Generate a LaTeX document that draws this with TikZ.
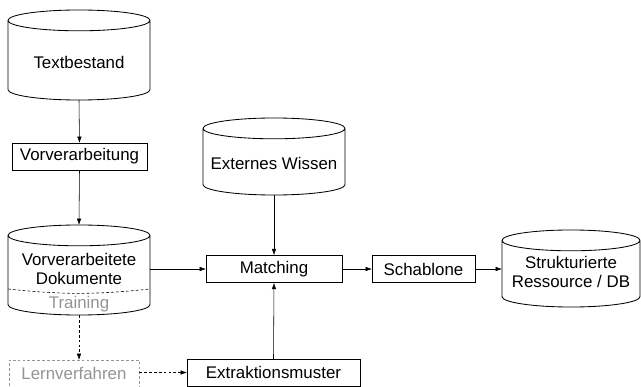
\documentclass[tikz,border=0pt]{standalone}
\usepackage{fontspec}
\setmainfont{Liberation Sans}
\usepackage{tikz}
\usetikzlibrary{arrows.meta}

\begin{document}
\begin{tikzpicture}[x=0.025cm,y=-0.025cm,
		font=\fontsize{12}{13}\selectfont,
		kasten/.style={draw,line width=0.6pt,minimum height=0.69cm,inner sep=0pt,outer sep=0pt},
		speicher/.style={inner sep=0pt,outer sep=0pt,minimum width=3.55cm},
		pfeil/.style={line width=0.4pt,-{Latex[length=4.5pt,width=3.2pt]}},
		grau/.style={text=black!42}]
	\useasboundingbox (0,0) rectangle (641,387);
	% Speicher (Zylinder)
	\node[speicher,minimum height=2.25cm] (TB) at (79,55) {};
	\node[speicher,minimum height=2.25cm] (VD) at (79,270) {};
	\node[speicher,minimum height=1.925cm] (EW) at (274,156.5) {};
	\node[speicher,minimum height=1.925cm,minimum width=3.45cm] (SR) at (571,268.5) {};
	\foreach \Z/\R in {TB/1.775cm, VD/1.775cm, EW/1.775cm, SR/1.725cm} {
		\draw[line width=0.6pt] ([yshift=-0.26cm]\Z.north west) -- ([yshift=0.26cm]\Z.south west)
			arc[start angle=180, end angle=360, x radius=\R, y radius=0.26cm]
			-- ([yshift=-0.26cm]\Z.north east)
			arc[start angle=0, end angle=360, x radius=\R, y radius=0.26cm];
	}
	\draw[line width=0.4pt,dash pattern=on 2pt off 1.5pt] (VD.west |- 0,289) to[bend right=6] (VD.east |- 0,289);
	\node (TBt) at (79,62) {Textbestand};
	\node[align=center] (VDt) at (79,269) {Vorverarbeitete\\Dokumente};
	\node[grau] (VDtr) at (79,304) {Training};
	\node (EWt) at (274,163) {Externes Wissen};
	\node[align=center,font=\fontsize{12}{14}\selectfont] (SRt) at (571,272) {Strukturierte\\Ressource / DB};
	% Kaesten
	\node[kasten,minimum width=3.375cm,minimum height=0.675cm] (VV) at (79.5,156.5) {Vorverarbeitung};
	\node[kasten,minimum width=3.4cm] (MA) at (274,269) {Matching};
	\node[kasten,minimum width=2.575cm] (SC) at (423.5,269) {Schablone};
	\node[kasten,minimum width=4.325cm,minimum height=0.675cm] (EM) at (273.5,372.5) {Extraktionsmuster};
	\node[kasten,grau,draw=black!42,dash pattern=on 2pt off 1.5pt,minimum width=3.25cm,minimum height=0.675cm] (LV) at (74,373.5) {Lernverfahren};
	% Pfeile
	\draw[pfeil] (TB.south) -- (VV.north);
	\draw[pfeil] (VV.south) -- (VD.north);
	\draw[pfeil] (VD.east |- MA.west) -- (MA.west);
	\draw[pfeil] (EW.south) -- (MA.north);
	\draw[pfeil] (EM.north) -- (MA.south);
	\draw[pfeil] (MA.east) -- (SC.west);
	\draw[pfeil] (SC.east) -- (SR.west |- SC.east);
	\draw[pfeil,dash pattern=on 2pt off 1.5pt] (VD.south) -- (VD.south |- LV.north);
	\draw[pfeil,dash pattern=on 2pt off 1.5pt] (LV.east |- EM.west) -- (EM.west);
\end{tikzpicture}
\end{document}
